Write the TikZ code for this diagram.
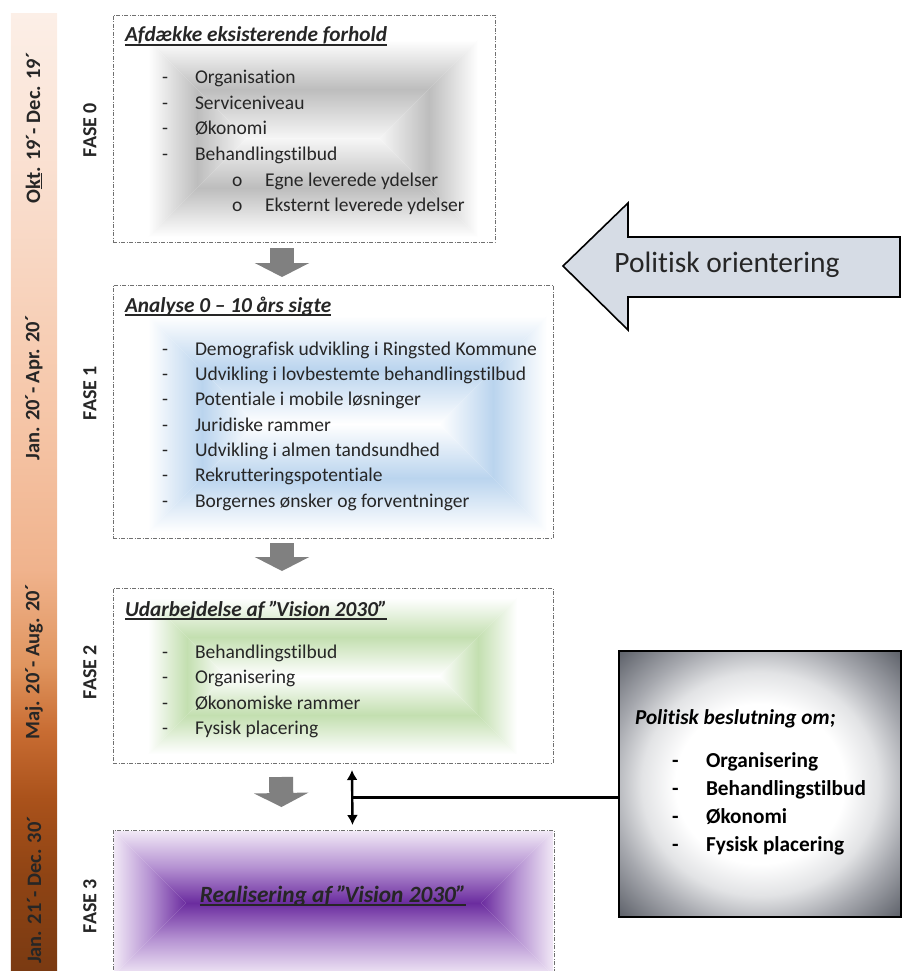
\documentclass[tikz,border=0pt]{standalone}
\usepackage{fontspec}
\setmainfont{Carlito}[Ligatures=NoCommon]
\usetikzlibrary{arrows.meta,calc}
\definecolor{boxborder}{HTML}{707070}
\definecolor{arrowgray}{HTML}{808080}
\definecolor{poFill}{HTML}{D6DCE5}
\definecolor{txtcol}{HTML}{262626}
\definecolor{gmid}{HTML}{BDBDBD}
\definecolor{gcen}{HTML}{F6F6F6}
\definecolor{bmid}{HTML}{BAD4EE}
\definecolor{grmid}{HTML}{C3DFB0}
\definecolor{pedge}{HTML}{F1E8F6}
\definecolor{pmid}{HTML}{B592D2}
\definecolor{pcen}{HTML}{6B2C9F}
\definecolor{tb0}{HTML}{7A3A12}
\definecolor{tb1}{HTML}{8F4414}
\definecolor{tb2}{HTML}{AA521B}
\definecolor{tb3}{HTML}{C86C32}
\definecolor{tb4}{HTML}{E0955F}
\definecolor{tb5}{HTML}{F0B38D}
\definecolor{tb6}{HTML}{F6C8AB}
\definecolor{tb7}{HTML}{F9DCCB}
\definecolor{tb8}{HTML}{FCEFE7}
\definecolor{vg1}{HTML}{E2E3E5}
\definecolor{vg2}{HTML}{A6A8AE}
\definecolor{vg3}{HTML}{4E525B}
% TikZ maps the central 50bp of a shading onto the path's bounding box
\pgfdeclareverticalshading{timebar}{48bp}{color(0bp)=(tb0); color(25bp)=(tb0); color(30bp)=(tb1); color(34bp)=(tb2); color(37.5bp)=(tb3); color(41bp)=(tb4); color(46bp)=(tb5); color(55bp)=(tb6); color(65bp)=(tb7); color(75bp)=(tb8); color(100bp)=(tb8)}
\pgfdeclareradialshading{vign}{\pgfpoint{0bp}{0bp}}{color(0bp)=(white); color(15bp)=(white); color(21bp)=(vg1); color(27bp)=(vg2); color(37bp)=(vg3); color(50bp)=(vg3)}
% rectangular (path) gradient: x0 y0 x1 y1 edge mid center
\newcommand\rectgrad[7]{%
  \pgfmathsetmacro\rgcy{(#2+#4)/2}%
  \pgfmathsetmacro\rgh{(#4-#2)/2}%
  \pgfmathsetmacro\rgxa{#1+\rgh}%
  \pgfmathsetmacro\rgxb{#3-\rgh}%
  \shade[top color=#5, bottom color=#7, middle color=#6] (#1,#2) -- (#3,#2) -- (\rgxb,\rgcy) -- (\rgxa,\rgcy) -- cycle;
  \shade[top color=#7, bottom color=#5, middle color=#6] (\rgxa,\rgcy) -- (\rgxb,\rgcy) -- (#3,#4) -- (#1,#4) -- cycle;
  \shade[left color=#5, right color=#7, middle color=#6] (#1,#2) -- (\rgxa,\rgcy) -- (#1,#4) -- cycle;
  \shade[left color=#7, right color=#5, middle color=#6] (#3,#2) -- (\rgxb,\rgcy) -- (#3,#4) -- cycle;
}
\newcommand\oq{”\kern-0.12em}
\begin{document}
\begin{tikzpicture}[x=1pt,y=-1pt,
  every node/.style={inner sep=0pt, outer sep=0pt},
  phasebox/.style={draw=boxborder, line width=0.9pt, dash pattern=on 4pt off 1.5pt on 1pt off 1.5pt},
  itemtxt/.style={anchor=base west, font=\fontsize{19.5}{23}\selectfont, text=txtcol},
  titletxt/.style={anchor=base west, font=\fontsize{21.3}{25}\selectfont\bfseries\itshape, text=txtcol},
  uline/.style={line width=1.1pt, draw=txtcol},
  datelbl/.style={rotate=90, font=\fontsize{20.5}{24}\selectfont\bfseries, text=txtcol},
  faselbl/.style={rotate=90, font=\fontsize{20}{24}\selectfont\bfseries, text=txtcol},
  downarr/.style={line width=24pt, draw=arrowgray, -{Triangle[length=14pt,width=54pt]}},
  dblarr/.style={line width=2.4pt, {Latex[length=10pt,width=11pt]}-{Latex[length=10pt,width=11pt]}},
  rbtxt/.style={anchor=base west, font=\fontsize{21.3}{25}\selectfont\bfseries, text=black}
]
\useasboundingbox (0,0) rectangle (902,971);
% timeline bar
\shade[shading=timebar] (10,14) rectangle (58,971);
\node[datelbl] (d0) at (34,128) {O\underline{kt}. 19´- Dec. 19´};
\node[datelbl] (d1) at (34,388) {Jan. 20´- Apr. 20´};
\node[datelbl] (d2) at (34,662) {Maj. 20´- Aug. 20´};
\node[datelbl] (d3) at (34,890) {Jan. 21´- Dec. 30´};
\node[faselbl] (f0) at (90,130) {FASE 0};
\node[faselbl] (f1) at (90,393) {FASE 1};
\node[faselbl] (f2) at (90,672) {FASE 2};
\node[faselbl] (f3) at (90,906) {FASE 3};
% fills
\rectgrad{148}{40}{478}{237}{white}{gmid}{gcen}
\rectgrad{148}{316}{547}{532}{white}{bmid}{white}
\rectgrad{148}{598}{517}{754}{white}{grmid}{white}
\rectgrad{114}{831}{553}{975}{pedge}{pmid}{pcen}
% boxes
\node[phasebox, minimum width=382pt, minimum height=227pt] (b0) at (304,128.5) {};
\node[phasebox, minimum width=440pt, minimum height=253pt] (b1) at (333,411.5) {};
\node[phasebox, minimum width=440pt, minimum height=175pt] (b2) at (333,675.5) {};
\node[phasebox, minimum width=441pt, minimum height=150pt] (b3) at (333.5,905) {};
% box 0
\node[titletxt] (t0) at (125,42) {Afdække eksisterende forhold};
\draw[uline] ([yshift=-3pt]t0.base west) -- ([yshift=-3pt]t0.base east);
\node[itemtxt] (a1d) at (162,84) {-};
\node[itemtxt] (a1) at (195,84) {Organisation};
\node[itemtxt] (a2d) at (162,109.5) {-};
\node[itemtxt] (a2) at (195,109.5) {Serviceniveau};
\node[itemtxt] (a3d) at (162,135) {-};
\node[itemtxt] (a3) at (195,135) {Økonomi};
\node[itemtxt] (a4d) at (162,160.5) {-};
\node[itemtxt] (a4) at (195,160.5) {Behandlingstilbud};
\node[itemtxt] (a5d) at (232,186) {o};
\node[itemtxt] (a5) at (265,186) {Egne leverede ydelser};
\node[itemtxt] (a6d) at (232,211.5) {o};
\node[itemtxt] (a6) at (265,211.5) {Eksternt leverede ydelser};
% box 1
\node[titletxt] (t1) at (125,312) {Analyse 0 – 10 års sigte};
\draw[uline] ([yshift=-3pt]t1.base west) -- ([yshift=-3pt]t1.base east);
\node[itemtxt] (c1d) at (162,355) {-};
\node[itemtxt] (c1) at (195,355) {Demografisk udvikling i Ringsted Kommune};
\node[itemtxt] (c2d) at (162,380.3) {-};
\node[itemtxt] (c2) at (195,380.3) {Udvikling i lovbestemte behandlingstilbud};
\node[itemtxt] (c3d) at (162,405.6) {-};
\node[itemtxt] (c3) at (195,405.6) {Potentiale i mobile løsninger};
\node[itemtxt] (c4d) at (162,431) {-};
\node[itemtxt] (c4) at (195,431) {Juridiske rammer};
\node[itemtxt] (c5d) at (162,456.3) {-};
\node[itemtxt] (c5) at (195,456.3) {Udvikling i almen tandsundhed};
\node[itemtxt] (c6d) at (162,481.6) {-};
\node[itemtxt] (c6) at (195,481.6) {Rekrutteringspotentiale};
\node[itemtxt] (c7d) at (162,507) {-};
\node[itemtxt] (c7) at (195,507) {Borgernes ønsker og forventninger};
% box 2
\node[titletxt] (t2) at (125,616) {Udarbejdelse af \oq Vision 2030”};
\draw[uline] ([yshift=-3pt]t2.base west) -- ([yshift=-3pt]t2.base east);
\node[itemtxt] (e1d) at (162,658) {-};
\node[itemtxt] (e1) at (195,658) {Behandlingstilbud};
\node[itemtxt] (e2d) at (162,683.5) {-};
\node[itemtxt] (e2) at (195,683.5) {Organisering};
\node[itemtxt] (e3d) at (162,709) {-};
\node[itemtxt] (e3) at (195,709) {Økonomiske rammer};
\node[itemtxt] (e4d) at (162,734.5) {-};
\node[itemtxt] (e4) at (195,734.5) {Fysisk placering};
% box 3
\node[anchor=base, font=\fontsize{23.3}{28}\selectfont\bfseries\itshape, text=txtcol] (t3) at (333,902) {Realisering af \oq Vision 2030”};
\draw[uline] ([yshift=-3pt]t3.base west) -- ([yshift=-3pt]t3.base east);
% gray down arrows
\draw[downarr] ($(b0.south)+(-22,6)$) -- ($(b1.north)+(-51,-8)$);
\draw[downarr] ($(b1.south)+(-51,5)$) -- ($(b2.north)+(-51,-17)$);
\draw[downarr] ($(b2.south)+(-52,14)$) -- ($(b3.north)+(-52,-23)$);
% politisk orientering arrow
\draw[line width=1.6pt, fill=poFill, line join=miter] (563,266) -- (628,203) -- (628,237) -- (900,237) -- (900,297) -- (628,297) -- (628,330) -- cycle;
\node[font=\fontsize{29.5}{34}\selectfont, text=txtcol] (po) at (727,265) {Politisk orientering};
% right decision box
\shade[shading=vign] (619,651) rectangle (901,917);
\node[draw=black, line width=1.6pt, minimum width=282pt, minimum height=266pt] (rb) at (760,784) {};
\node[rbtxt, font=\fontsize{21.3}{25}\selectfont\bfseries\itshape] (r0) at (635,724) {Politisk beslutning om;};
\node[rbtxt] (r1d) at (672,767) {-};
\node[rbtxt] (r1) at (706,767) {Organisering};
\node[rbtxt] (r2d) at (672,795) {-};
\node[rbtxt] (r2) at (706,795) {Behandlingstilbud};
\node[rbtxt] (r3d) at (672,823) {-};
\node[rbtxt] (r3) at (706,823) {Økonomi};
\node[rbtxt] (r4d) at (672,851) {-};
\node[rbtxt] (r4) at (706,851) {Fysisk placering};
% connector
\coordinate (dtop) at ($(b2.south)+(19,7)$);
\coordinate (dbot) at ($(b3.north)+(19,-5)$);
\coordinate (dmid) at ($(dtop)!0.5!(dbot)$);
\draw[dblarr] (dtop) -- (dbot);
\draw[line width=2.5pt] (rb.west |- dmid) -- (dmid);
\end{tikzpicture}
\end{document}
